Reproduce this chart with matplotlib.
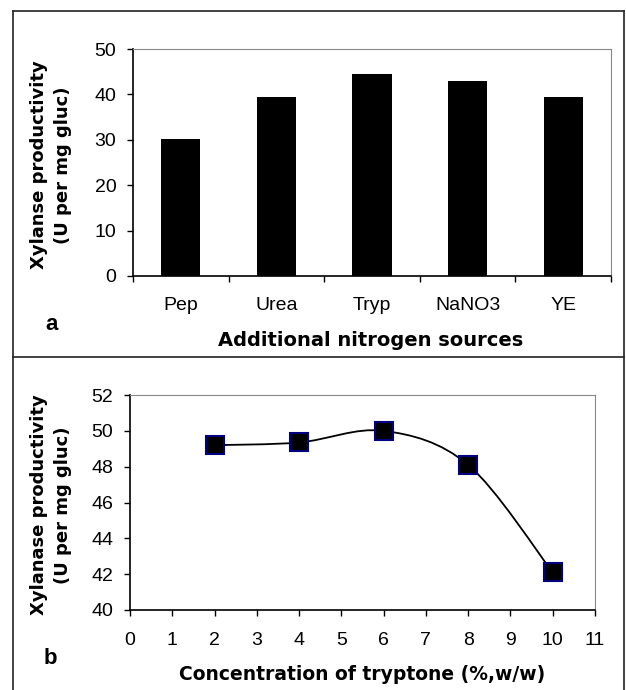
import matplotlib
matplotlib.use("Agg")
import matplotlib.pyplot as plt
from matplotlib.path import Path
from matplotlib.patches import PathPatch
from matplotlib.lines import Line2D
import numpy as np

plt.rcParams['font.family'] = ['Liberation Sans', 'DejaVu Sans']

# Panel a data
sources = ["Pep", "Urea", "Tryp", "NaNO3", "YE"]
productivity_a = [30.1, 39.5, 44.6, 43.0, 39.5]
yticks_a = [0, 10, 20, 30, 40, 50]

# Panel b data
tryptone = [2, 4, 6, 8, 10]
productivity_b = [49.2, 49.35, 50.0, 48.1, 42.1]
xticks_b = list(range(0, 12))
yticks_b = [40, 42, 44, 46, 48, 50, 52]

W, H = 626, 690
fig = plt.figure(figsize=(W / 100, H / 100), dpi=100)

def fx(px):
    return px / W

def fy(py):
    return 1 - py / H

XLABEL_FONT = dict(family=['DejaVu Sans'], fontsize=14, fontweight="bold")
YLABEL_FONT = dict(family=['DejaVu Sans'], fontsize=13, fontweight="bold")
TICK_SIZE = 14

# ---------- Panel a ----------
axa = fig.add_axes([fx(133), fy(276), fx(611) - fx(133), fy(49) - fy(276)])
xa = np.arange(len(sources))
axa.bar(xa, productivity_a, width=0.41, color="black")
axa.set_xlim(-0.5, len(sources) - 0.5)
axa.set_ylim(0, 50)
axa.set_yticks(yticks_a)
axa.set_xticks(xa)
axa.set_xticklabels(sources)
axa.set_xticks(np.arange(-0.5, len(sources)), minor=True)
axa.tick_params(axis="x", which="major", length=0, pad=15, labelsize=TICK_SIZE)
axa.tick_params(axis="x", which="minor", length=4.5, width=1, direction="out")
axa.tick_params(axis="y", length=4, width=1, direction="out", labelsize=TICK_SIZE, pad=8)
for s in ["top", "right"]:
    axa.spines[s].set_color("#888888")
for s in ["left", "bottom"]:
    axa.spines[s].set_color("black")
    axa.spines[s].set_linewidth(1.2)
fig.text(fx(371), fy(340), "Additional nitrogen sources", ha="center", va="center", **XLABEL_FONT)
fig.text(fx(51), fy(165), "Xylanse productivity\n(U per mg gluc)", ha="center", va="center",
         rotation=90, linespacing=1.45, **YLABEL_FONT)
fig.text(fx(52), fy(325), "a", fontsize=16, fontweight="bold", ha="center", va="center")

# ---------- Panel b ----------
axb = fig.add_axes([fx(130), fy(610), fx(595) - fx(130), fy(395) - fy(610)])
axb.set_xlim(0, 11)
axb.set_ylim(40, 52)
axb.set_xticks(xticks_b)
axb.set_yticks(yticks_b)

# Smoothed line (Catmull-Rom as cubic Bezier through the data points)
pts = np.column_stack([tryptone, productivity_b]).astype(float)
verts = [tuple(pts[0])]
codes = [Path.MOVETO]
n = len(pts)
for i in range(n - 1):
    p0 = pts[i - 1] if i > 0 else pts[i]
    p1 = pts[i]
    p2 = pts[i + 1]
    p3 = pts[i + 2] if i + 2 < n else pts[i + 1]
    c1 = p1 + (p2 - p0) / 6.0
    c2 = p2 - (p3 - p1) / 6.0
    verts += [tuple(c1), tuple(c2), tuple(p2)]
    codes += [Path.CURVE4] * 3
axb.add_patch(PathPatch(Path(verts, codes), facecolor="none", edgecolor="black", lw=1.3, zorder=2))
axb.plot(tryptone, productivity_b, linestyle="none", marker="s", markersize=13.5,
         markerfacecolor="black", markeredgecolor="#000080", markeredgewidth=1.5, zorder=3)

axb.tick_params(axis="x", length=4.5, width=1, direction="out", labelsize=TICK_SIZE, pad=11)
axb.tick_params(axis="y", length=4, width=1, direction="out", labelsize=TICK_SIZE, pad=8)
for s in ["top", "right"]:
    axb.spines[s].set_color("#888888")
for s in ["left", "bottom"]:
    axb.spines[s].set_color("black")
    axb.spines[s].set_linewidth(1.2)
fig.text(fx(362), fy(675), "Concentration of tryptone (%,w/w)", ha="center", va="center",
         family=['DejaVu Sans'], fontsize=13.5, fontweight="bold")
fig.text(fx(51), fy(505), "Xylanase productivity\n(U per mg gluc)", ha="center", va="center",
         rotation=90, linespacing=1.45, **YLABEL_FONT)
fig.text(fx(50), fy(658), "b", fontsize=16, fontweight="bold", ha="center", va="center")

# ---------- Outer frame and divider ----------
frame_kw = dict(transform=fig.transFigure, color="#222222", lw=1.2)
fig.add_artist(Line2D([fx(13), fx(13)], [fy(11), fy(690)], **frame_kw))
fig.add_artist(Line2D([fx(13), fx(624)], [fy(11), fy(11)], **frame_kw))
fig.add_artist(Line2D([fx(624), fx(624)], [fy(11), fy(690)], **frame_kw))
fig.add_artist(Line2D([fx(13), fx(624)], [fy(357), fy(357)], **frame_kw))

fig.savefig("out.png", dpi=100)
